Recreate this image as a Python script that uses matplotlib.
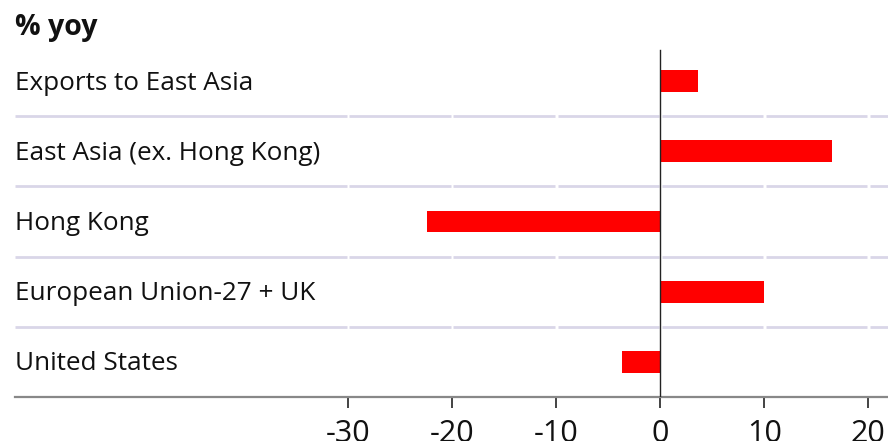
import matplotlib
matplotlib.use("Agg")
import matplotlib.pyplot as plt
import matplotlib.transforms as mtransforms

plt.rcParams['font.family'] = ['Open Sans', 'DejaVu Sans']

categories = ["Exports to East Asia", "East Asia (ex. Hong Kong)", "Hong Kong",
              "European Union-27 + UK", "United States"]
values = [3.6, 16.5, -22.4, 10.0, -3.7]
xticks = [-30, -20, -10, 0, 10, 20]
title = "% yoy"

W, H = 888, 441
fig = plt.figure(figsize=(W / 100, H / 100), dpi=100)
left_px, bottom_px, top_px = 15, 44, 46
ax = fig.add_axes([left_px / W, bottom_px / H, (W - left_px) / W, (H - bottom_px - top_px) / H])

xmin, xmax = -62.0, 21.9
ax.set_xlim(xmin, xmax)
ax.set_ylim(len(categories) - 0.5, -0.5)

ypos = list(range(len(categories)))
ax.barh(ypos, values, height=0.31, color="#ff0000", zorder=3)

# horizontal separators, broken at each major tick
grid_color = "#d9d6e8"
gap = 0.28
breaks = [xmin] + xticks + [xmax]
for yb in [i + 0.5 for i in range(len(categories) - 1)]:
    for a, b in zip(breaks[:-1], breaks[1:]):
        x0 = a + (gap / 2 if a != xmin else 0)
        x1 = b - (gap / 2 if b != xmax else 0)
        ax.plot([x0, x1], [yb, yb], color=grid_color, lw=2.0, solid_capstyle="butt", zorder=1)

# zero line
ax.axvline(0, ymin=0, ymax=0.99, color="#222222", lw=1.0, zorder=4)

# category labels, nudged slightly down to sit level with the bars
trans = mtransforms.blended_transform_factory(ax.transAxes, ax.transData)
trans = trans + mtransforms.ScaledTranslation(0, -2 / 100, fig.dpi_scale_trans)
for y, lab in zip(ypos, categories):
    ax.text(0.0, y, lab, transform=trans, ha="left", va="center",
            fontsize=18.8, color="#111111")

for s in ["top", "left", "right"]:
    ax.spines[s].set_visible(False)
ax.spines["bottom"].set_color("#888888")
ax.spines["bottom"].set_linewidth(1.6)

ax.set_yticks([])
ax.set_xticks(xticks)
ax.set_xticklabels([str(t) for t in xticks])
ax.tick_params(axis="x", direction="out", length=8, width=1.2, color="#222222",
               labelsize=22, pad=8, labelcolor="#111111")

fig.text(left_px / W, 1 - 27 / H, title, fontsize=20.5, fontweight="bold",
         ha="left", va="center", color="#111111")

fig.savefig("out.png", dpi=100)
